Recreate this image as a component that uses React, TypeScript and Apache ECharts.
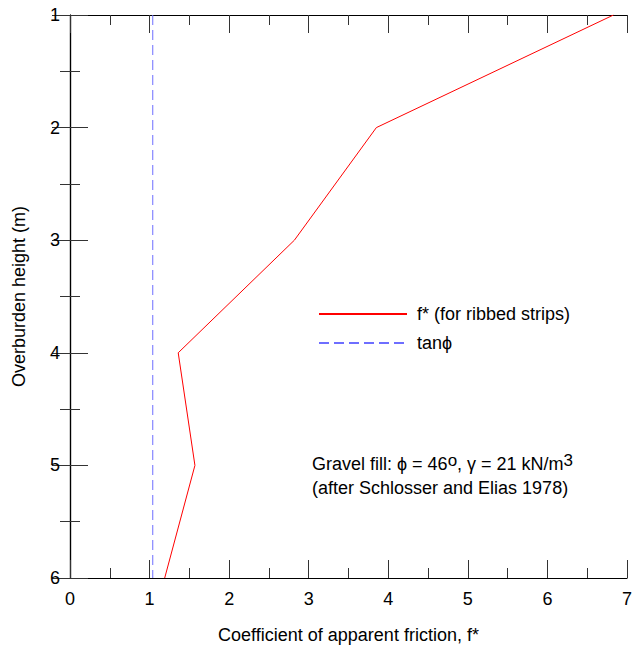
import React, { useEffect, useRef } from "react";
import * as echarts from "echarts";

const heights = [1, 2, 3, 4, 5, 6];
const fStar = [6.83, 3.85, 2.82, 1.36, 1.57, 1.19];
const tanPhi = [1.04, 1.04];
const tanPhiHeights = [1, 6];
const xTicks = [0, 1, 2, 3, 4, 5, 6, 7];
const yTicks = [1, 2, 3, 4, 5, 6];

const FONT = "'Liberation Sans', Arial, sans-serif";

export default function App() {
  const ref = useRef<HTMLDivElement>(null);
  useEffect(() => {
    document.body.style.margin = "0";
    if (!ref.current) return;
    const chart = echarts.init(ref.current, undefined, { renderer: "svg" });
    const axisLine = { show: true, lineStyle: { color: "#000", width: 1.2 } };
    const majorTick = { show: true, inside: true, length: 18, lineStyle: { color: "#333", width: 1 } };
    const minorTick = { show: true, splitNumber: 2, length: 10, lineStyle: { color: "#333", width: 1 } };
    const xBase = {
      type: "value" as const,
      min: xTicks[0],
      max: xTicks[xTicks.length - 1],
      interval: 1,
      axisLine,
      axisTick: majorTick,
      minorTick,
      splitLine: { show: false },
    };
    const yBase = {
      type: "value" as const,
      min: yTicks[0],
      max: yTicks[yTicks.length - 1],
      interval: 1,
      inverse: true,
      axisLine,
      axisTick: majorTick,
      minorTick,
      splitLine: { show: false },
    };
    chart.setOption({
      animation: false,
      backgroundColor: "#fff",
      textStyle: { fontFamily: FONT },
      grid: { left: 70, top: 15, right: 6, bottom: 75, containLabel: false },
      xAxis: [
        {
          ...xBase,
          position: "bottom",
          name: "Coefficient of apparent friction, f*",
          nameLocation: "middle",
          nameGap: 48,
          nameTextStyle: { fontSize: 18, color: "#000", fontFamily: FONT },
          axisLabel: { fontSize: 18, color: "#000", margin: 12, fontFamily: FONT },
        },
        { ...xBase, position: "top", axisLabel: { show: false } },
      ],
      yAxis: [
        {
          ...yBase,
          position: "left",
          name: "Overburden height (m)",
          nameLocation: "middle",
          nameGap: 42,
          nameTextStyle: { fontSize: 18, color: "#000", fontFamily: FONT },
          axisLabel: { fontSize: 18, color: "#000", margin: 10, fontFamily: FONT },
        },
        { ...yBase, position: "right", axisLabel: { show: false } },
      ],
      legend: {
        orient: "vertical",
        left: 313,
        top: 300,
        itemWidth: 88,
        itemHeight: 16,
        itemGap: 11,
        itemStyle: { opacity: 0 },
        textStyle: { fontSize: 18, color: "#000", fontFamily: FONT, padding: [0, 0, 0, 5] },
        data: ["f* (for ribbed strips)", "tan\u03d5"],
      },
      graphic: [
        {
          type: "text",
          left: 312,
          top: 452,
          style: {
            text: "Gravel fill: \u03d5 = 46{sup|o}, \u03b3 = 21 kN/m{sup|3}\n(after Schlosser and Elias 1978)",
            font: `18px ${FONT}`,
            fill: "#000",
            lineHeight: 24,
            rich: {
              sup: { fontSize: 17, verticalAlign: "top", padding: [0, 0, 8, 0], fontFamily: FONT, fill: "#000" } as any,
            },
          } as any,
        },
      ],
      series: [
        {
          name: "f* (for ribbed strips)",
          type: "line",
          xAxisIndex: 0,
          yAxisIndex: 0,
          data: heights.map((h, i) => [fStar[i], h]),
          symbol: "none",
          lineStyle: { color: "#ff0000", width: 1 },
          itemStyle: { color: "#ff0000" },
        },
        {
          name: "tan\u03d5",
          type: "line",
          xAxisIndex: 0,
          yAxisIndex: 0,
          data: tanPhiHeights.map((h, i) => [tanPhi[i], h]),
          symbol: "none",
          lineStyle: { color: "#6e6eff", width: 1, type: [10, 5] },
          itemStyle: { color: "#6e6eff" },
        },
      ],
    });
    return () => chart.dispose();
  }, []);
  return <div ref={ref} style={{ width: 635, height: 653 }} />;
}
